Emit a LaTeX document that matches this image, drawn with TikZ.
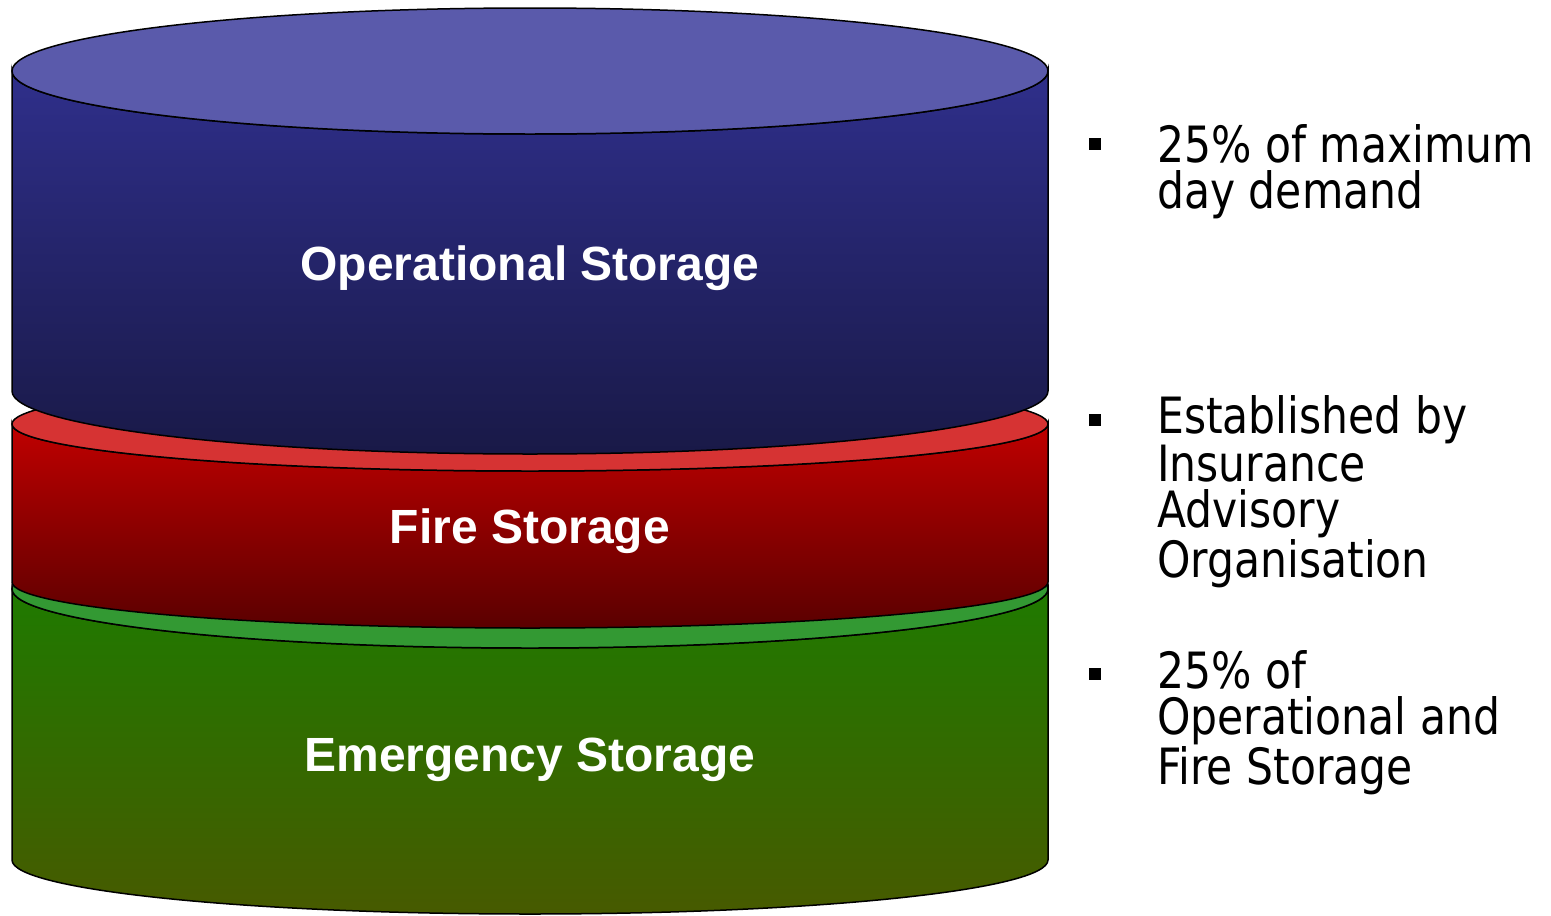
\documentclass[tikz,border=0pt]{standalone}
\usepackage{fontspec}
\setmainfont{Liberation Sans}
\newfontfamily\notefont[FakeStretch=0.85]{DejaVu Sans}
\usetikzlibrary{positioning}
\definecolor{opface}{HTML}{5A5AAB}
\definecolor{opsideA}{HTML}{2F2F8B}
\definecolor{opsideB}{HTML}{191947}
\definecolor{fireface}{HTML}{D63333}
\definecolor{firesideA}{HTML}{C00000}
\definecolor{firesideB}{HTML}{5A0000}
\definecolor{emface}{HTML}{339933}
\definecolor{emsideA}{HTML}{1F7A00}
\definecolor{emsideB}{HTML}{475A00}

\begin{document}
\begin{tikzpicture}[x=1pt,y=-1pt,
    rim/.style={draw=black,line width=1.5pt},
    storelabel/.style={text=white,anchor=base,inner sep=0pt,font=\fontsize{48}{56}\selectfont\bfseries},
    note/.style={anchor=base west,align=left,inner sep=0pt,font=\notefont\fontsize{50}{46}\selectfont},
    bulletsq/.style={fill=black,minimum size=12pt,inner sep=0pt}]
  \useasboundingbox (0,0) rectangle (1551,916);
  % emergency storage
  \shade[rim,top color=emsideA,bottom color=emsideB] (12,589) -- (12,860)
    arc[start angle=180,end angle=0,x radius=518,y radius=54] -- (1048,589)
    arc[start angle=0,end angle=180,x radius=518,y radius=59] -- cycle;
  \filldraw[rim,fill=emface] (530,589) ellipse[x radius=518,y radius=59];
  % fire storage
  \shade[rim,top color=firesideA,bottom color=firesideB] (12,424) -- (12,582)
    arc[start angle=180,end angle=0,x radius=518,y radius=46] -- (1048,424)
    arc[start angle=0,end angle=180,x radius=518,y radius=47] -- cycle;
  \filldraw[rim,fill=fireface] (530,424) ellipse[x radius=518,y radius=47];
  % operational storage
  \shade[rim,top color=opsideA,bottom color=opsideB] (12,71) -- (12,391)
    arc[start angle=180,end angle=0,x radius=518,y radius=63] -- (1048,71)
    arc[start angle=0,end angle=180,x radius=518,y radius=63] -- cycle;
  \filldraw[rim,fill=opface] (530,71) ellipse[x radius=518,y radius=63];

  \node[storelabel] (oplabel) at (530,280) {Operational Storage};
  \node[storelabel] (firelabel) at (530,543) {Fire Storage};
  \node[storelabel] (emlabel) at (530,771) {Emergency Storage};

  % the base of a note is the baseline of its last line
  \node[bulletsq] (b1) at (1095,144) {};
  \node[note] (n1) at (1157,208) {25\% of maximum\\day demand};
  \node[bulletsq] (b2) at (1095,420) {};
  \node[note] (n2) at (1157,577) {Established by\\Insurance\\Advisory\\Organisation};
  \node[bulletsq] (b3) at (1095,674) {};
  \node[note] (n3) at (1157,784) {25\% of\\Operational and\\Fire Storage};
\end{tikzpicture}
\end{document}
